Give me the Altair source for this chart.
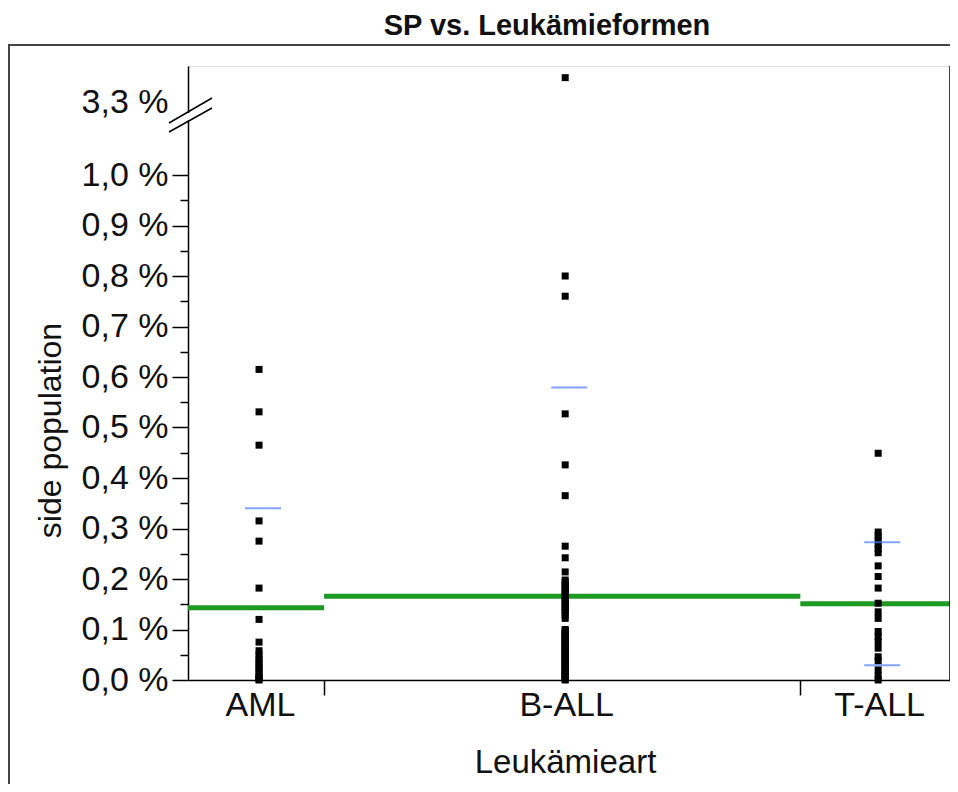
import altair as alt
import numpy as np
import pandas as pd

# ---------------- data ----------------
groups = ["AML", "B-ALL", "T-ALL"]
group_n = [20, 70, 22]                 # group widths (JMP: proportional to n)
group_mean = [0.143, 0.166, 0.151]     # green mean lines (%)
group_sd = [0.197, 0.413, 0.122]       # blue mean +/- sd lines (%)

aml = [0.615, 0.531, 0.465, 0.315, 0.275, 0.182, 0.120, 0.075, 0.058, 0.050,
       0.042, 0.036, 0.030, 0.024, 0.018, 0.012, 0.006, 0.004, 0.002, 0.0]
ball = [3.35, 0.80, 0.76, 0.527, 0.426, 0.365, 0.265, 0.242, 0.214,
        0.198, 0.194, 0.19, 0.186, 0.182, 0.178, 0.174, 0.17, 0.166, 0.162,
        0.158, 0.154, 0.15, 0.146, 0.142, 0.138, 0.134, 0.128, 0.122,
        0.1, 0.098, 0.095, 0.092, 0.09, 0.087, 0.085, 0.082, 0.08, 0.077,
        0.075, 0.072, 0.07, 0.067, 0.065, 0.062, 0.06, 0.057, 0.055, 0.052,
        0.05, 0.047, 0.045, 0.042, 0.04, 0.037, 0.035, 0.032, 0.03, 0.027,
        0.025, 0.022, 0.02, 0.017, 0.015, 0.012, 0.01, 0.008, 0.006, 0.004,
        0.002, 0.0]
tall = [0.449, 0.293, 0.285, 0.277, 0.268, 0.26, 0.252, 0.226, 0.205, 0.182,
        0.152, 0.135, 0.122, 0.096, 0.086, 0.076, 0.063, 0.046, 0.038, 0.02,
        0.008, 0.0]

y_ticks = [0.0, 0.05, 0.1, 0.15, 0.2, 0.25, 0.3, 0.35, 0.4, 0.45, 0.5, 0.55,
           0.6, 0.65, 0.7, 0.75, 0.8, 0.85, 0.9, 0.95, 1.0, 3.3]
# broken axis: lower segment 0..1.1, upper segment 3.27..3.373
y_domain = [0.0, 1.1, 3.27, 3.373]

# ---------------- derived tables ----------------
W, H = 762, 614
bounds = np.concatenate([[0], np.cumsum(group_n)]).astype(float)
centers = (bounds[:-1] + bounds[1:]) / 2
total = float(bounds[-1])

values = [aml, ball, tall]
pts = pd.DataFrame({
    "group": [g for g, v in zip(groups, values) for _ in v],
    "x": [c for c, v in zip(centers, values) for _ in v],
    "sp": [s for v in values for s in v],
})
mean_df = pd.DataFrame({"group": groups, "x0": bounds[:-1], "x1": bounds[1:],
                        "mean": group_mean})
sd_rows = []
for g, c, m, s in zip(groups, centers, group_mean, group_sd):
    for v in (m + s, m - s):
        if v >= 0:
            sd_rows.append({"group": g, "x": c, "v": v})
sd_df = pd.DataFrame(sd_rows)

FONT = "Liberation Sans, Arial, sans-serif"
TXT = "#111111"

xs = alt.Scale(domain=[0, total], nice=False, zero=False)
ys = alt.Scale(domain=y_domain, range=[H, 58.5, 52.2, 0], nice=False, zero=False)

label_expr_x = "".join(
    f"datum.value === {c} ? '{g}' : " for g, c in zip(groups, centers)) + "''"
center_test = " || ".join(f"datum.value === {c}" for c in centers)
x_axis = alt.Axis(
    values=sorted(list(centers) + list(bounds[1:-1])),
    labelExpr=label_expr_x,
    tickOpacity={"condition": {"test": center_test, "value": 0}, "value": 1},
    tickSize=15, tickWidth=1.5, tickColor="black",
    domainColor="black", domainWidth=1.5,
    labelFontSize=34, labelFont=FONT, labelColor=TXT, labelAngle=0,
    labelPadding=-7, labelOffset=4, labelOverlap=False, labelFlush=False,
    titleFontSize=33, titleFont=FONT, titleColor=TXT, titleFontWeight="normal",
    titlePadding=24, titleX=W / 2 - 4, grid=False,
)

major_test = "abs(datum.value * 10 - round(datum.value * 10)) < 0.001"
y_axis = alt.Axis(
    values=y_ticks,
    labelExpr=f"{major_test} ? replace(format(datum.value, '.1f'), '.', ',') + ' %' : ''",
    tickSize={"condition": {"test": major_test, "value": 16}, "value": 8},
    tickOpacity={"condition": {"test": "datum.value > 2", "value": 0}, "value": 1},
    tickWidth=1.5, tickColor="black", domainColor="black", domainWidth=1.5,
    labelFontSize=34, labelFont=FONT, labelColor=TXT, labelPadding=4,
    labelOverlap=False, labelFlush=False,
    titleFontSize=32, titleFont=FONT, titleColor=TXT, titleFontWeight="normal",
    titlePadding=14, titleY=364, grid=False,
)


def X(field):
    return alt.X(field, scale=xs, axis=x_axis, title="Leukämieart")


def Y(field):
    return alt.Y(field, scale=ys, axis=y_axis, title="side population")


one = pd.DataFrame({"a": [0]})

frame = alt.Chart(one).mark_rect(fillOpacity=0, stroke="#444444", strokeWidth=2).encode(
    x=alt.value(-179), x2=alt.value(W + 60), y=alt.value(-21), y2=alt.value(H + 200))

points = alt.Chart(pts).mark_square(size=49, color="black", opacity=1).encode(
    x=X("x:Q"), y=Y("sp:Q"), xOffset=alt.value(3))

means = alt.Chart(mean_df).mark_rule(color="#1c9a22", strokeWidth=5).encode(
    x=X("x0:Q"), x2="x1:Q", y=Y("mean:Q"))

sds = alt.Chart(sd_df).mark_tick(orient="horizontal", size=36, thickness=2,
                                 color="#4f7cff").encode(
    x=X("x:Q"), y=Y("v:Q"), xOffset=alt.value(7))

right_line = alt.Chart(pd.DataFrame({"x": [total], "y0": [y_domain[0]],
                                     "y1": [y_domain[-1]]})).mark_rule(
    color="black", strokeWidth=1.5).encode(x=X("x:Q"), y=Y("y0:Q"), y2="y1:Q")

gap = alt.Chart(one).mark_rule(color="white", strokeWidth=4).encode(
    x=alt.value(0), y=alt.value(47), y2=alt.value(54))
slash1 = alt.Chart(one).mark_rule(color="black", strokeWidth=1.5).encode(
    x=alt.value(-19), x2=alt.value(24), y=alt.value(57), y2=alt.value(32))
slash2 = alt.Chart(one).mark_rule(color="black", strokeWidth=1.5).encode(
    x=alt.value(-19), x2=alt.value(24), y=alt.value(66), y2=alt.value(42))

chart = alt.layer(frame, means, points, sds, right_line, gap, slash1, slash2).properties(
    width=W, height=H,
    title=alt.TitleParams("SP vs. Leukämieformen", fontSize=29, fontWeight="bold",
                          font=FONT, color=TXT, anchor="middle", dx=-22, offset=3),
    autosize=alt.AutoSizeParams(type="none"),
    padding={"left": 180, "top": 58, "right": 0, "bottom": 104},
).configure_view(strokeWidth=0).configure(background="white")

chart.save("out.html", embed_options={"renderer": "svg", "actions": False})
